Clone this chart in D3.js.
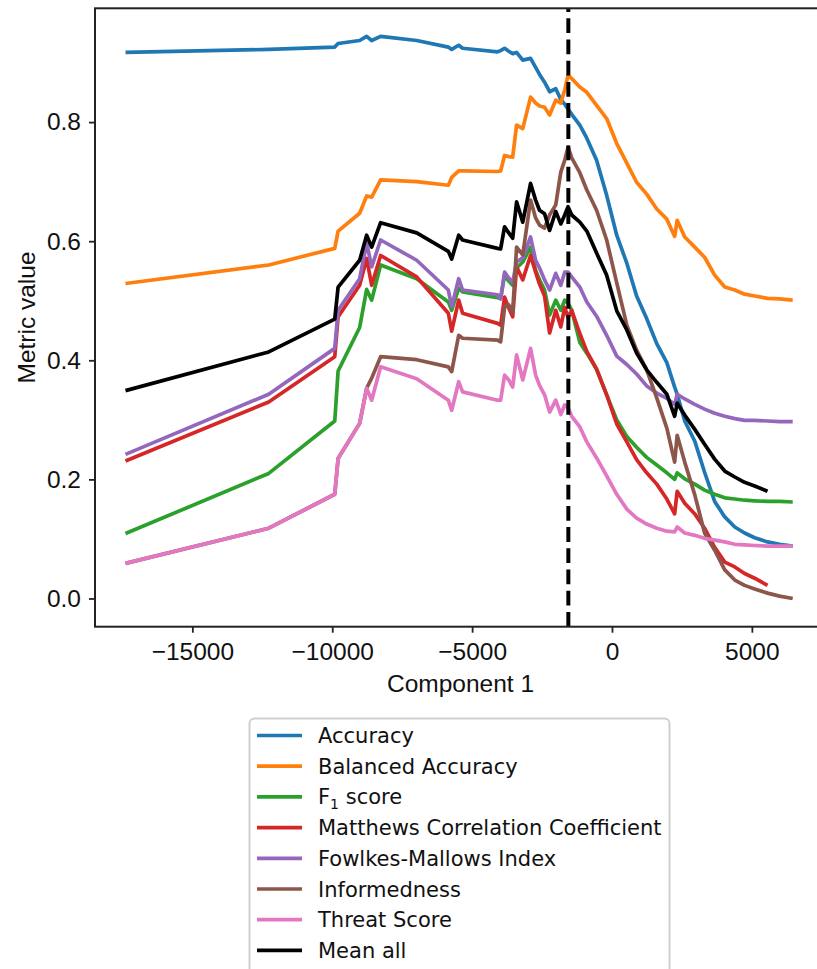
<!DOCTYPE html>
<html>
<head>
<meta charset="utf-8">
<script src="https://cdn.jsdelivr.net/npm/d3@7"></script>
<style>
  body { margin: 0; background: #fff; }
  .tick text { font-family: "Liberation Sans", Arial, sans-serif; }
</style>
</head>
<body>
<div id="chart"></div>
<script>
// Component 1 positions shared by all metric curves
var compX = [-17390, -12270, -9910, -9790, -9020, -8770, -8590, -8270, -6980, -5850,
  -5730, -5480, -5340, -4090, -3980, -3840, -3690, -3550, -3410, -3190,
  -2910, -2730, -2590, -2410, -2230, -2010, -1830, -1690, -1570, -1440,
  -1150, -900, -550, -190, 170, 530, 880, 1240, 1600, 1960,
  2240, 2330, 2600, 2960, 3310, 3670, 4030, 4390, 4740, 5100,
  5560, 5990, 6460];

var accuracy = [0.917, 0.922, 0.926, 0.932, 0.937, 0.944, 0.937, 0.944, 0.937, 0.926,
  0.922, 0.929, 0.924, 0.918, 0.920, 0.924, 0.919, 0.915, 0.917, 0.904,
  0.907, 0.892, 0.880, 0.867, 0.851, 0.856, 0.838, 0.830, 0.822, 0.813,
  0.795, 0.773, 0.736, 0.677, 0.610, 0.563, 0.508, 0.470, 0.428, 0.396,
  0.355, 0.343, 0.298, 0.264, 0.212, 0.163, 0.137, 0.120, 0.110, 0.102,
  0.095, 0.091, 0.088];

var balancedAccuracy = [0.529, 0.560, 0.588, 0.617, 0.647, 0.676, 0.674, 0.703, 0.700, 0.694,
  0.707, 0.718, 0.718, 0.717, 0.718, 0.744, 0.742, 0.741, 0.795, 0.789,
  0.842, 0.832, 0.827, 0.825, 0.812, 0.837, 0.832, 0.854, 0.879, 0.873,
  0.859, 0.850, 0.828, 0.806, 0.764, 0.731, 0.699, 0.679, 0.654, 0.637,
  0.608, 0.635, 0.607, 0.590, 0.573, 0.543, 0.523, 0.518, 0.511, 0.508,
  0.504, 0.503, 0.501];

var f1Score = [0.109, 0.210, 0.298, 0.382, 0.455, 0.519, 0.501, 0.560, 0.537, 0.498,
  0.484, 0.521, 0.515, 0.505, 0.504, 0.543, 0.533, 0.526, 0.555, 0.565,
  0.590, 0.551, 0.535, 0.518, 0.476, 0.501, 0.484, 0.501, 0.496, 0.484,
  0.430, 0.412, 0.385, 0.342, 0.300, 0.272, 0.254, 0.237, 0.224, 0.211,
  0.200, 0.211, 0.201, 0.192, 0.182, 0.175, 0.169, 0.167, 0.165, 0.164,
  0.163, 0.163, 0.162];

var mcc = [0.231, 0.330, 0.406, 0.473, 0.526, 0.571, 0.526, 0.576, 0.540, 0.479,
  0.449, 0.501, 0.479, 0.462, 0.459, 0.506, 0.488, 0.473, 0.557, 0.535,
  0.576, 0.548, 0.528, 0.508, 0.446, 0.484, 0.456, 0.489, 0.472, 0.484,
  0.445, 0.415, 0.385, 0.342, 0.293, 0.263, 0.233, 0.211, 0.192, 0.167,
  0.142, 0.180, 0.160, 0.142, 0.118, 0.086, 0.061, 0.053, 0.042, 0.034,
  0.022, null, null];

var fowlkesMallows = [0.242, 0.343, 0.420, 0.484, 0.537, 0.597, 0.557, 0.602, 0.568, 0.518,
  0.490, 0.537, 0.518, 0.510, 0.503, 0.548, 0.538, 0.531, 0.565, 0.572,
  0.607, 0.568, 0.555, 0.535, 0.518, 0.546, 0.526, 0.548, 0.548, 0.540,
  0.523, 0.498, 0.474, 0.442, 0.407, 0.393, 0.377, 0.357, 0.345, 0.336,
  0.326, 0.343, 0.335, 0.326, 0.318, 0.311, 0.306, 0.302, 0.299, 0.299,
  0.298, 0.297, 0.297];

var informedness = [0.059, 0.118, 0.175, 0.235, 0.294, 0.353, 0.370, 0.406, 0.401, 0.389,
  0.381, 0.442, 0.437, 0.434, 0.431, 0.489, 0.493, 0.481, 0.590, 0.577,
  0.669, 0.639, 0.627, 0.622, 0.644, 0.661, 0.716, 0.736, 0.758, 0.740,
  0.715, 0.686, 0.652, 0.602, 0.530, 0.459, 0.417, 0.384, 0.337, 0.286,
  0.229, 0.274, 0.229, 0.174, 0.110, 0.081, 0.048, 0.031, 0.022, 0.016,
  0.009, 0.004, 0.000];

var threatScore = [0.059, 0.118, 0.175, 0.235, 0.294, 0.353, 0.333, 0.389, 0.369, 0.333,
  0.316, 0.364, 0.347, 0.333, 0.333, 0.375, 0.367, 0.355, 0.409, 0.367,
  0.420, 0.375, 0.358, 0.342, 0.313, 0.333, 0.309, 0.325, 0.320, 0.306,
  0.288, 0.263, 0.236, 0.206, 0.175, 0.150, 0.135, 0.125, 0.118, 0.113,
  0.112, 0.120, 0.110, 0.106, 0.101, 0.098, 0.095, 0.091, 0.090, 0.089,
  0.088, 0.088, 0.088];

var meanAll = [0.349, 0.414, 0.469, 0.523, 0.568, 0.610, 0.590, 0.631, 0.614, 0.583,
  0.570, 0.610, 0.602, 0.588, 0.587, 0.624, 0.614, 0.605, 0.666, 0.632,
  0.697, 0.669, 0.652, 0.646, 0.618, 0.650, 0.629, 0.644, 0.658, 0.644,
  0.632, 0.617, 0.580, 0.543, 0.483, 0.451, 0.412, 0.384, 0.363, 0.343,
  0.306, 0.328, 0.308, 0.284, 0.259, 0.234, 0.214, 0.204, 0.195, 0.189,
  0.180, null, null];

var seriesNames = ["Accuracy", "Balanced Accuracy", "F1 score", "Matthews Correlation Coefficient",
  "Fowlkes-Mallows Index", "Informedness", "Threat Score", "Mean all"];
var seriesColors = ["#1f77b4", "#ff7f0e", "#2ca02c", "#d62728", "#9467bd", "#8c564b", "#e377c2", "#000000"];
var xTicks = [-15000, -10000, -5000, 0, 5000];
var yTicks = [0.0, 0.2, 0.4, 0.6, 0.8];
var thresholdX = -1560;

// Define SVG area dimensions
var svgWidth = 817;
var svgHeight = 969;

var chartMargin = { top: 8.3, left: 95 };
var chartWidth = 731;
var chartHeight = 618.4;

var svg = d3.select("#chart")
  .append("svg")
  .attr("width", svgWidth)
  .attr("height", svgHeight);

var chartGroup = svg.append("g")
  .attr("transform", `translate(${chartMargin.left}, ${chartMargin.top})`);

var xScale = d3.scaleLinear()
  .domain([-18480, 7650])
  .range([0, chartWidth]);

var yScale = d3.scaleLinear()
  .domain([-0.0474, 0.9911])
  .range([chartHeight, 0]);

var allSeries = [accuracy, balancedAccuracy, f1Score, mcc, fowlkesMallows, informedness, threatScore, meanAll];

var line = d3.line()
  .defined(d => d[1] !== null)
  .x(d => xScale(d[0]))
  .y(d => yScale(d[1]));

// one path per metric
allSeries.forEach(function(values, i) {
  chartGroup.append("path")
    .datum(compX.map((x, j) => [x, values[j]]))
    .attr("d", line)
    .attr("fill", "none")
    .attr("stroke", seriesColors[i])
    .attr("stroke-width", 3.7)
    .attr("stroke-linejoin", "round")
    .attr("stroke-linecap", "butt");
});

// dashed threshold line, drawn bottom to top like axvline
chartGroup.append("line")
  .attr("x1", xScale(thresholdX))
  .attr("x2", xScale(thresholdX))
  .attr("y1", chartHeight)
  .attr("y2", 0)
  .attr("stroke", "#000")
  .attr("stroke-width", 4)
  .attr("stroke-dasharray", "14.8,6.4");

// axes
var bottomAxis = d3.axisBottom(xScale).tickValues(xTicks).tickSize(6).tickPadding(10).tickSizeOuter(0)
  .tickFormat(d3.format("d"));
var leftAxis = d3.axisLeft(yScale).tickValues(yTicks).tickSize(6).tickPadding(8).tickSizeOuter(0)
  .tickFormat(d3.format(".1f"));

var xAxisG = chartGroup.append("g")
  .attr("transform", `translate(0, ${chartHeight})`)
  .call(bottomAxis);

var yAxisG = chartGroup.append("g")
  .call(leftAxis);

[xAxisG, yAxisG].forEach(function(g) {
  g.select(".domain").remove();
  g.selectAll(".tick line").attr("stroke", "#222").attr("stroke-width", 1.8);
  g.selectAll(".tick text")
    .attr("fill", "#111")
    .style("font-size", "24.5px");
});

// frame (spines)
chartGroup.append("rect")
  .attr("x", 0)
  .attr("y", 0)
  .attr("width", chartWidth)
  .attr("height", chartHeight)
  .attr("fill", "none")
  .attr("stroke", "#222")
  .attr("stroke-width", 2);

// axis titles
chartGroup.append("text")
  .attr("x", 460.5 - chartMargin.left)
  .attr("y", 691.7 - chartMargin.top)
  .attr("text-anchor", "middle")
  .style("font-family", "Liberation Sans, Arial, sans-serif")
  .style("font-size", "24.5px")
  .attr("fill", "#111")
  .text("Component 1");

svg.append("text")
  .attr("transform", `translate(35, ${chartMargin.top + chartHeight / 2}) rotate(-90)`)
  .attr("text-anchor", "middle")
  .style("font-family", "Liberation Sans, Arial, sans-serif")
  .style("font-size", "24.5px")
  .attr("fill", "#111")
  .text("Metric value");

// legend
var legend = svg.append("g");

legend.append("rect")
  .attr("x", 249.5)
  .attr("y", 718.5)
  .attr("width", 420)
  .attr("height", 300)
  .attr("rx", 5)
  .attr("fill", "#fff")
  .attr("stroke", "#d0d0d0")
  .attr("stroke-width", 2);

seriesNames.forEach(function(name, i) {
  var rowY = 735.5 + i * 30.7;
  legend.append("line")
    .attr("x1", 257)
    .attr("x2", 302)
    .attr("y1", rowY)
    .attr("y2", rowY)
    .attr("stroke", seriesColors[i])
    .attr("stroke-width", 3.7);

  var label = legend.append("text")
    .attr("x", 318)
    .attr("y", rowY + 7.5)
    .style("font-family", "DejaVu Sans, sans-serif")
    .style("font-size", "21px")
    .attr("fill", "#111");

  if (name === "F1 score") {
    label.append("tspan").text("F");
    label.append("tspan").attr("dy", 5).style("font-size", "14px").text("1");
    label.append("tspan").attr("dy", -5).text(" score");
  } else {
    label.text(name);
  }
});
</script>
</body>
</html>
